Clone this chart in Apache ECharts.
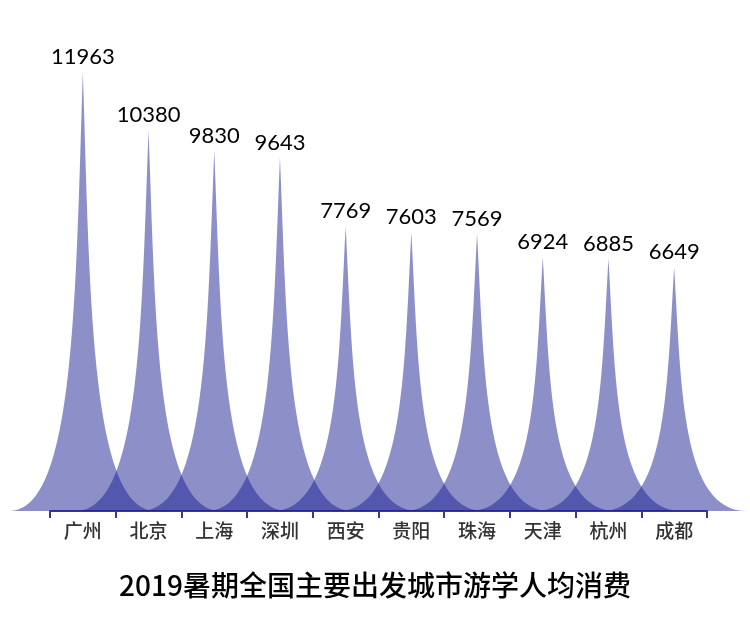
<!DOCTYPE html>
<html><head><meta charset="utf-8">
<script src="https://cdn.jsdelivr.net/npm/echarts@6/dist/echarts.min.js"></script>
<style>html,body{margin:0;padding:0;background:#fff}#c{width:750px;height:637px}</style>
</head><body><div id="c"></div>
<script>
var cities = ['广州','北京','上海','深圳','西安','贵阳','珠海','天津','杭州','成都'];
var values = [11963,10380,9830,9643,7769,7603,7569,6924,6885,6649];
var titleText = '2019暑期全国主要出发城市游学人均消费';

var chart = echarts.init(document.getElementById('c'));
chart.setOption({
  backgroundColor: '#fff',
  title: {
    text: titleText, left: 'center', top: 566,
    textStyle: {fontSize: 28, fontWeight: 500, color: '#000', fontFamily: '"Noto Sans CJK SC", sans-serif'}
  },
  grid: {left: 50, right: 43, top: 71, bottom: 126},
  xAxis: {
    type: 'category', data: cities,
    axisLine: {show: true, lineStyle: {color: '#3b3a8c', width: 2}},
    axisTick: {show: true, length: 7, lineStyle: {color: '#3b3a8c', width: 2}},
    axisLabel: {color: '#333', fontSize: 19, fontWeight: 500, margin: 10, fontFamily: '"Noto Sans CJK SC", sans-serif'}
  },
  yAxis: {type: 'value', min: 0, max: 12000, show: false, splitLine: {show: false}},
  series: [{
    type: 'pictorialBar',
    barCategoryGap: '-122%',
    symbol: 'path://M0,10 L10,10 C5.5,10 5.5,5 5,0 C4.5,5 4.5,10 0,10 z',
    itemStyle: {color: 'rgba(28,32,148,0.5)'},
    emphasis: {disabled: true},
    label: {show: true, position: 'top', distance: 4, color: '#000', fontSize: 22, fontFamily: 'Lato, sans-serif'},
    data: values,
    z: 10
  }]
});
</script></body></html>
